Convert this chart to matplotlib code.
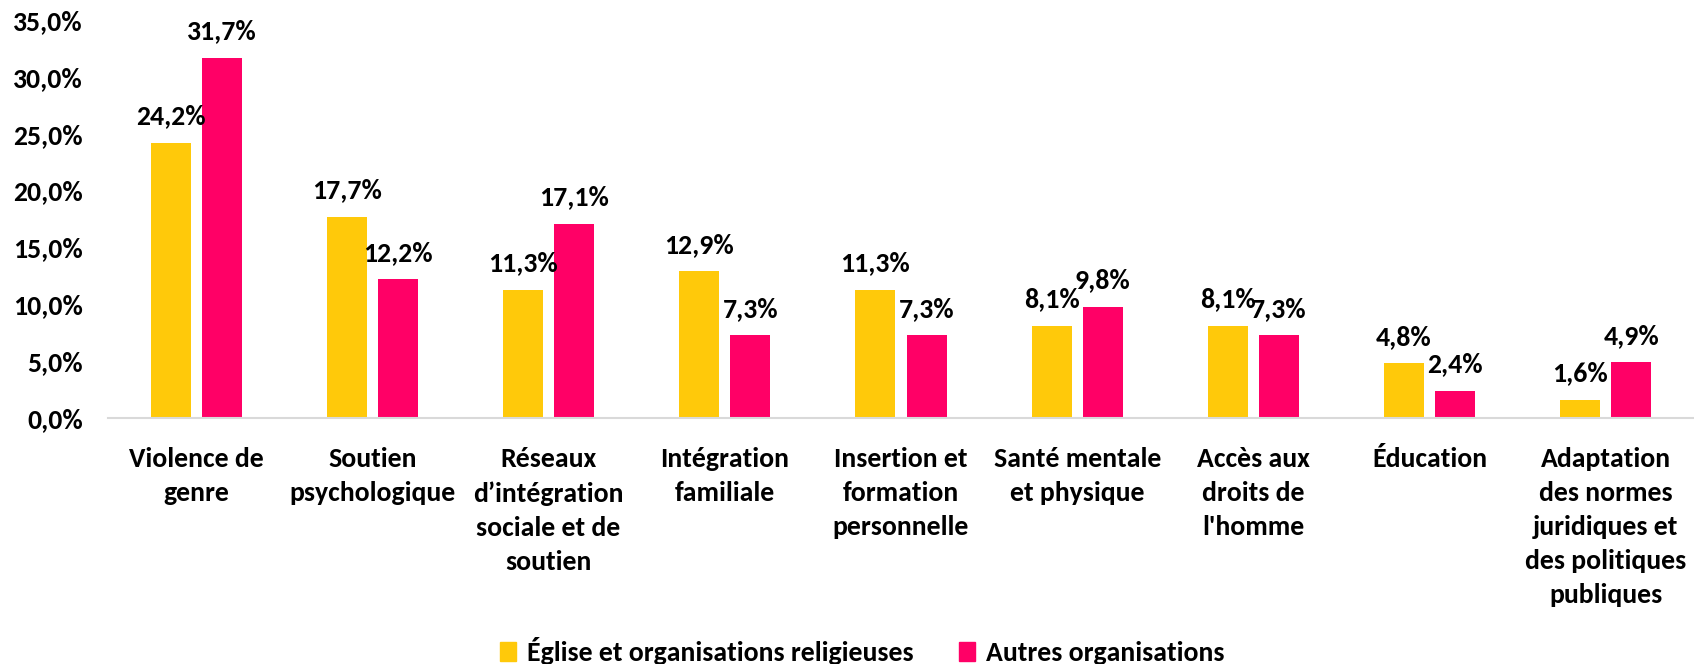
import matplotlib
matplotlib.use("Agg")
import matplotlib.pyplot as plt
from matplotlib.patches import Patch
import numpy as np

categories = [
    "Violence de\ngenre",
    "Soutien\npsychologique",
    "Réseaux\nd’intégration\nsociale et de\nsoutien",
    "Intégration\nfamiliale",
    "Insertion et\nformation\npersonnelle",
    "Santé mentale\net physique",
    "Accès aux\ndroits de\nl'homme",
    "Éducation",
    "Adaptation\ndes normes\njuridiques et\ndes politiques\npubliques",
]
series_names = ["Église et organisations religieuses", "Autres organisations"]
eglise = [24.2, 17.7, 11.3, 12.9, 11.3, 8.1, 8.1, 4.8, 1.6]
autres = [31.7, 12.2, 17.1, 7.3, 7.3, 9.8, 7.3, 2.4, 4.9]
yticks = [0, 5, 10, 15, 20, 25, 30, 35]

colors = ["#FFC90A", "#FF0066"]

plt.rcParams['font.family'] = ['Carlito', 'Lato', 'DejaVu Sans']
plt.rcParams['font.weight'] = 'bold'

FS = 20

W, H = 1694, 664
fig = plt.figure(figsize=(W / 100, H / 100), dpi=100)
left = 108 / W
bottom = (H - 418) / H
top = (H - 20) / H
ax = fig.add_axes([left, bottom, 1 - left, top - bottom])

x = np.arange(len(categories))
bw = 0.227
off = 0.145
b1 = ax.bar(x - off, eglise, bw, color=colors[0])
b2 = ax.bar(x + off, autres, bw, color=colors[1])

def fmt(v):
    return f"{v:.1f}%".replace(".", ",")

for bars, vals in ((b1, eglise), (b2, autres)):
    for r, v in zip(bars, vals):
        ax.annotate(fmt(v), (r.get_x() + r.get_width() / 2, v),
                    xytext=(0, 19), textcoords="offset points",
                    ha="center", va="center", fontsize=FS, fontweight="bold")

ax.set_xlim(-0.5, len(categories) - 0.5)
ax.set_ylim(0, 35)
ax.set_yticks(yticks)
ax.set_yticklabels([fmt(v) for v in yticks], fontsize=FS, fontweight="bold")
ax.set_xticks(x)
ax.set_xticklabels(categories, fontsize=FS, fontweight="bold", linespacing=1.5, va="top")
ax.tick_params(axis="both", length=0)
ax.tick_params(axis="x", pad=21)
ax.tick_params(axis="y", pad=18)
for s in ("top", "right", "left"):
    ax.spines[s].set_visible(False)
ax.spines["bottom"].set_color("#D9D9D9")
ax.spines["bottom"].set_linewidth(1.5)

handles = [Patch(color=c) for c in colors]
fig.legend(handles, series_names, loc="center", bbox_to_anchor=(0.509, (H - 651) / H),
           ncol=2, frameon=False, handlelength=0.6, handleheight=0.7,
           handletextpad=0.4, columnspacing=1.6, prop={'weight': 'bold', 'size': FS})

fig.savefig("out.png", dpi=100)
